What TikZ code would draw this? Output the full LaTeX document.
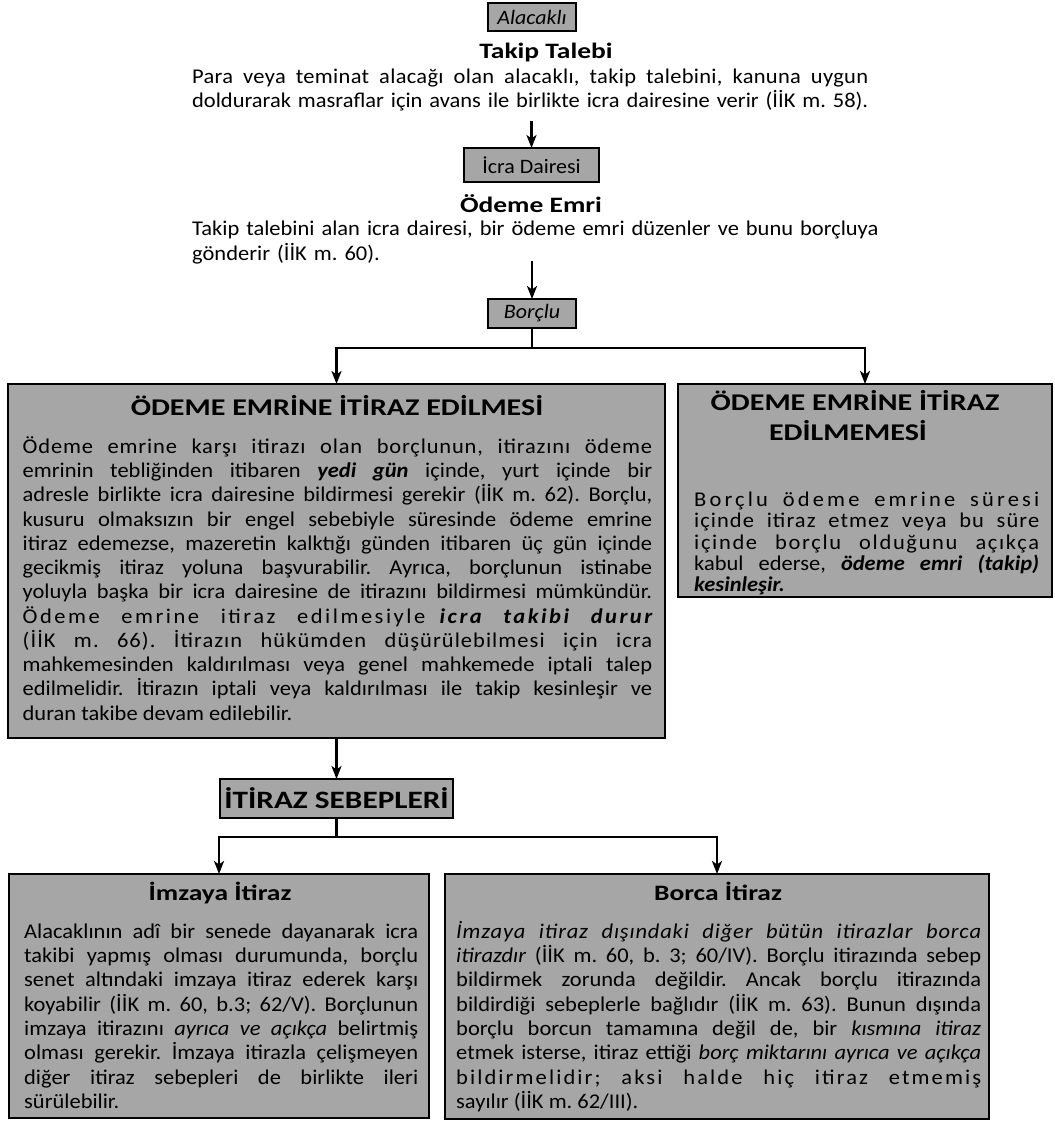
\documentclass[tikz,border=0pt]{standalone}
\usepackage{fontspec}
\setmainfont{Carlito}[FakeStretch=1.07]
\newfontfamily\ttlfont{Carlito}[FakeStretch=1.25]
\usetikzlibrary{arrows.meta}
\definecolor{boxgray}{RGB}{166,166,166}
\newcommand\bodyfnt[1]{\fontsize{21}{#1}\selectfont\frenchspacing\tolerance=10000\hbadness=10000\hyphenpenalty=10000\exhyphenpenalty=10000\parindent=0pt}
\newcommand\fillpar{\parfillskip=0pt\relax}
\newcommand\firststrut{\rule{0pt}{20pt}}
\newcommand\lsp[2]{{\addfontfeature{LetterSpace=#1}#2}}
\newcommand\lspbi[2]{{\bfseries\itshape\addfontfeature{LetterSpace=#1}#2}}
\begin{document}
\begin{tikzpicture}[x=1pt,y=-1pt,
  box/.style={draw=black, line width=2.4pt, fill=boxgray, inner sep=0pt, outer sep=0pt},
  arr/.style={line width=2.4pt, -{Stealth[length=13pt,width=10pt,inset=3.5pt]}},
  body/.style={anchor=north west, inner sep=0pt, align=justify},
  ttl/.style={anchor=base, inner sep=0pt, font=\fontsize{22}{26}\ttlfont\bfseries},
  bigttl/.style={anchor=base, inner sep=0pt, font=\fontsize{24}{28}\ttlfont\bfseries},
  lbl/.style={font=\fontsize{20.5}{24}\selectfont},
]
\useasboundingbox (0,0) rectangle (1055,1122);

% top chain
\node[box, minimum width=88pt, minimum height=28pt, lbl] (alac) at (532,17) {\itshape Alacaklı};
\node[ttl] (takip) at (546,58) {Takip Talebi};
\node[body, text width=676pt, font={\bodyfnt{24}\fillpar}] (para1) at (192,63) {\firststrut \lsp{1.5}{Para veya teminat alacağı olan alacaklı, takip talebini, kanuna uygun}\linebreak doldurarak masraflar için avans ile birlikte icra dairesine verir (İİK m. 58).};

\node[box, minimum width=135pt, minimum height=34pt, lbl] (icra) at (531.5,165) {İcra Dairesi};
\node[ttl] (odeme) at (531,212) {Ödeme Emri};
\node[body, text width=740pt, align=left, font=\bodyfnt{25}] (para2) at (192,215) {\firststrut Takip talebini alan icra dairesi, bir ödeme emri düzenler ve bunu borçluya\\ gönderir (İİK m. 60).};

\node[box, minimum width=88pt, minimum height=29pt, lbl] (borclu) at (532,313.5) {\itshape Borçlu};

% left big box
\node[box, anchor=north west, minimum width=657pt, minimum height=354pt] (lbox) at (8,384) {};
\node[bigttl] (ltitle) at (337,415) {ÖDEME EMRİNE İTİRAZ EDİLMESİ};
\node[body, text width=629.5pt, font=\bodyfnt{24.27}] (lbody) at (22.5,433) {\firststrut \lsp{4}{Ödeme emrine karşı itirazı olan borçlunun, itirazını ödeme}\linebreak
emrinin tebliğinden itibaren \textbf{\textit{yedi gün}} içinde, yurt içinde bir\linebreak
adresle birlikte icra dairesine bildirmesi gerekir (İİK m. 62). Borçlu,\linebreak
kusuru olmaksızın bir engel sebebiyle süresinde ödeme emrine\linebreak
itiraz edemezse, mazeretin kalktığı günden itibaren üç gün içinde\linebreak
gecikmiş itiraz yoluna başvurabilir. Ayrıca, borçlunun istinabe\linebreak
yoluyla başka bir icra dairesine de itirazını bildirmesi mümkündür.\linebreak
\lsp{12}{Ödeme emrine itiraz edilmesiyle} \lspbi{12}{icra takibi durur}\linebreak
\lsp{5}{(İİK m. 66). İtirazın hükümden düşürülebilmesi için icra}\linebreak
mahkemesinden kaldırılması veya genel mahkemede iptali talep\linebreak
edilmelidir. İtirazın iptali veya kaldırılması ile takip kesinleşir ve\linebreak
duran takibe devam edilebilir.};

% right box
\node[box, anchor=north west, minimum width=374pt, minimum height=213pt] (rbox) at (678,384) {};
\node[bigttl] (rtitleA) at (855,410) {ÖDEME EMRİNE İTİRAZ};
\node[bigttl] (rtitleB) at (848,440) {EDİLMEMESİ};
\node[body, text width=345pt, font=\bodyfnt{21.4}] (rbody) at (694,486) {\firststrut \lsp{15}{Borçlu ödeme emrine süresi}\linebreak
\lsp{5}{içinde itiraz etmez veya bu süre}\linebreak
\lsp{8}{içinde borçlu olduğunu açıkça}\linebreak
kabul ederse, \textbf{\textit{ödeme emri (takip)}}\linebreak
\textbf{\textit{kesinleşir.}}};

% itiraz sebepleri
\node[box, minimum width=233pt, minimum height=39pt, font=\fontsize{25}{30}\ttlfont\bfseries] (itiraz) at (336.5,798.5) {İTİRAZ SEBEPLERİ};

% bottom left
\node[box, anchor=north west, minimum width=420pt, minimum height=244pt] (blbox) at (9,874) {};
\node[ttl] (bltitle) at (220,900) {İmzaya İtiraz};
\node[body, text width=394pt, font=\bodyfnt{24.3}] (blbody) at (24,918) {\firststrut Alacaklının adî bir senede dayanarak icra\linebreak
takibi yapmış olması durumunda, borçlu\linebreak
senet altındaki imzaya itiraz ederek karşı\linebreak
koyabilir (İİK m. 60, b.3; 62/V). Borçlunun\linebreak
imzaya itirazını \textit{ayrıca ve açıkça} belirtmiş\linebreak
olması gerekir. İmzaya itirazla çelişmeyen\linebreak
diğer itiraz sebepleri de birlikte ileri\linebreak
sürülebilir.};

% bottom right
\node[box, anchor=north west, minimum width=544pt, minimum height=245pt] (brbox) at (445,874) {};
\node[ttl] (brtitle) at (718,900) {Borca İtiraz};
\node[body, text width=525pt, font=\bodyfnt{24.3}] (brbody) at (456,918) {\firststrut {\itshape\addfontfeature{LetterSpace=4}İmzaya itiraz dışındaki diğer bütün itirazlar borca}\linebreak
\textit{itirazdır} (İİK m. 60, b. 3; 60/IV). Borçlu itirazında sebep\linebreak
bildirmek zorunda değildir. Ancak borçlu itirazında\linebreak
bildirdiği sebeplerle bağlıdır (İİK m. 63). Bunun dışında\linebreak
borçlu borcun tamamına değil de, bir \textit{kısmına itiraz}\linebreak
etmek isterse, itiraz ettiği \textit{borç miktarını ayrıca ve açıkça}\linebreak
\lsp{10}{bildirmelidir; aksi halde hiç itiraz etmemiş}\linebreak
sayılır (İİK m. 62/III).};

% connectors
\coordinate (s1) at (531.5,121);
\coordinate (s2) at (532,261);
\coordinate (j1) at (532,348);
\coordinate (j2) at (336.5,837);
\draw[arr] (s1) -- (icra.north);
\draw[arr] (s2) -- (borclu.north);
\draw[arr] (borclu.south) -- (j1) -| (lbox.north);
\draw[arr] (j1) -| (rbox.north);
\draw[arr] (lbox.south -| itiraz.north) -- (itiraz.north);
\draw[arr] (itiraz.south) -- (j2) -| (blbox.north);
\draw[arr] (j2) -| (brbox.north);
\end{tikzpicture}
\end{document}
